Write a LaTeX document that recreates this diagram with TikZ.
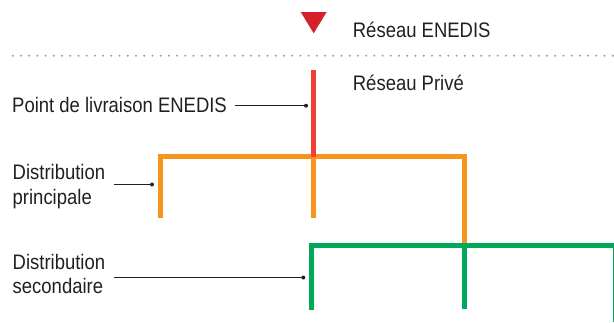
\documentclass[tikz,border=0pt]{standalone}
\usepackage{fontspec}
\setmainfont{Liberation Sans}[FakeStretch=0.88]
\definecolor{txt}{HTML}{231F20}
\definecolor{tri}{HTML}{D2232A}
\definecolor{redl}{HTML}{EE4036}
\definecolor{orl}{HTML}{F7941D}
\definecolor{grl}{HTML}{00A85A}
\definecolor{dotc}{HTML}{9A9A9A}
\tikzset{
  lbl/.style={anchor=base west, inner sep=0pt, text=txt, font=\fontsize{21}{24}\selectfont},
  lead/.style={draw=txt, line width=1pt},
  leaddot/.style={fill=txt, circle, inner sep=0pt, minimum size=4pt},
  net/.style={line width=5pt, line join=miter, line cap=butt},
}
\begin{document}
\begin{tikzpicture}[x=1pt, y=-1pt]
\useasboundingbox (0,0) rectangle (614,322);
% ENEDIS marker
\fill[tri] (300.7,12) -- (326.7,12) -- (313.7,33.3) -- cycle;
\node[lbl] (enedis) at (352.7,37.3) {Réseau ENEDIS};
% dotted separator
\coordinate (sepL) at (12.7,55.7);
\coordinate (sepR) at (614,55.7);
\draw[dotc, line width=2.2pt, line cap=round, dash pattern=on 0pt off 8.22pt] (sepL) -- (sepR);
\node[lbl] (prive) at (352.7,90.5) {Réseau Privé};
% red feeder
\coordinate (r1) at (313.3,70);
\coordinate (r2) at (313.3,156.5);
% orange network
\coordinate (o1) at (160.8,218.3);
\coordinate (o2) at (160.8,156.5);
\coordinate (o3) at (464.7,156.5);
\coordinate (o4) at (464.7,245.5);
\coordinate (o5) at (313.3,218.3);
\draw[net, orl] (o1) -- (o2) -- (o3) -- (o4);
\draw[net, orl] (r2) -- (o5);
\draw[line width=4.6pt, redl] (r1) -- (r2);
% green network
\coordinate (g1) at (311.3,310);
\coordinate (g2) at (311.3,245.5);
\coordinate (g3) at (615,245.5);
\coordinate (g4) at (615,322);
\coordinate (g5) at (464.7,309);
\draw[net, grl] (g1) -- (g2) -- (g3) -- (g4);
\draw[net, grl] (o4) -- (g5);
% labels with leaders
\node[lbl] (pl) at (12,112.3) {Point de livraison ENEDIS};
\coordinate (plA) at (235,105.7);
\node[leaddot] (plB) at (306,105.7) {};
\draw[lead] (plA) -- (plB.center);

\node[lbl] (dp1) at (12.5,179.3) {Distribution};
\node[lbl] (dp2) at (12.5,204) {principale};
\coordinate (dpA) at (114.3,184.5);
\node[leaddot] (dpB) at (152,184.5) {};
\draw[lead] (dpA) -- (dpB.center);

\node[lbl] (ds1) at (12.5,269.3) {Distribution};
\node[lbl] (ds2) at (12.5,293.3) {secondaire};
\coordinate (dsA) at (114.3,277.5);
\node[leaddot] (dsB) at (303.3,277.5) {};
\draw[lead] (dsA) -- (dsB.center);
\end{tikzpicture}
\end{document}
